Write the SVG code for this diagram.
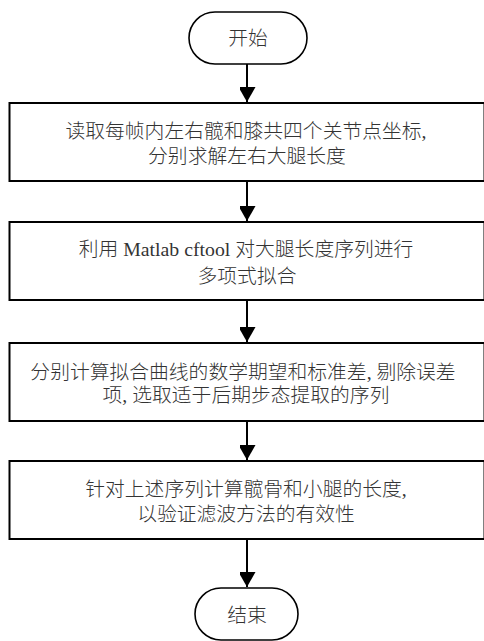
<svg xmlns="http://www.w3.org/2000/svg" width="484" height="641" viewBox="0 0 484 641">
<style>
.box{fill:#fff;stroke:#000;stroke-width:2}
.term{fill:#fff;stroke:#000;stroke-width:1.6}
.t{font-family:"Liberation Serif","Noto Sans CJK SC",serif;font-size:19.8px;font-weight:300;fill:#333;text-anchor:middle}
.c{stroke:#000;stroke-width:2;fill:none;marker-end:url(#ah)}
</style>
<defs>
<marker id="ah" markerUnits="userSpaceOnUse" markerWidth="18" markerHeight="16" refX="15" refY="8.5" orient="auto">
<path d="M0,0 L15,8.5 L0,17 Z" fill="#000"/>
</marker>
</defs>
<rect width="484" height="641" fill="#fff"/>
<g id="connectors">
<line class="c" x1="247" y1="64" x2="247" y2="102"/>
<line class="c" x1="247" y1="182" x2="247" y2="221"/>
<line class="c" x1="247" y1="301" x2="247" y2="342"/>
<line class="c" x1="247" y1="422" x2="247" y2="460"/>
<line class="c" x1="247" y1="540" x2="247" y2="587"/>
</g>
<g id="start">
<rect class="term" x="189" y="12" width="118" height="52" rx="26" ry="26"/>
<text class="t" x="248" y="45">开始</text>
</g>
<g id="step1">
<rect class="box" x="9.5" y="103" width="475" height="78"/>
<text class="t" x="246" y="137.5">读取每帧内左右髋和膝共四个关节点坐标,</text>
<text class="t" x="247" y="162.5">分别求解左右大腿长度</text>
</g>
<g id="step2">
<rect class="box" x="9.5" y="222" width="475" height="78"/>
<text class="t" x="246" y="255.5">利用 Matlab cftool 对大腿长度序列进行</text>
<text class="t" x="247" y="283">多项式拟合</text>
</g>
<g id="step3">
<rect class="box" x="9.5" y="343" width="475" height="78"/>
<text class="t" x="243" y="378.5">分别计算拟合曲线的数学期望和标准差, 剔除误差</text>
<text class="t" x="246" y="401.5">项, 选取适于后期步态提取的序列</text>
</g>
<g id="step4">
<rect class="box" x="9.5" y="461" width="475" height="78"/>
<text class="t" x="246" y="495.5">针对上述序列计算髋骨和小腿的长度,</text>
<text class="t" x="246" y="520.5">以验证滤波方法的有效性</text>
</g>
<g id="end">
<rect class="term" x="195" y="588" width="103" height="52" rx="26" ry="26"/>
<text class="t" x="247" y="622">结束</text>
</g>
</svg>
